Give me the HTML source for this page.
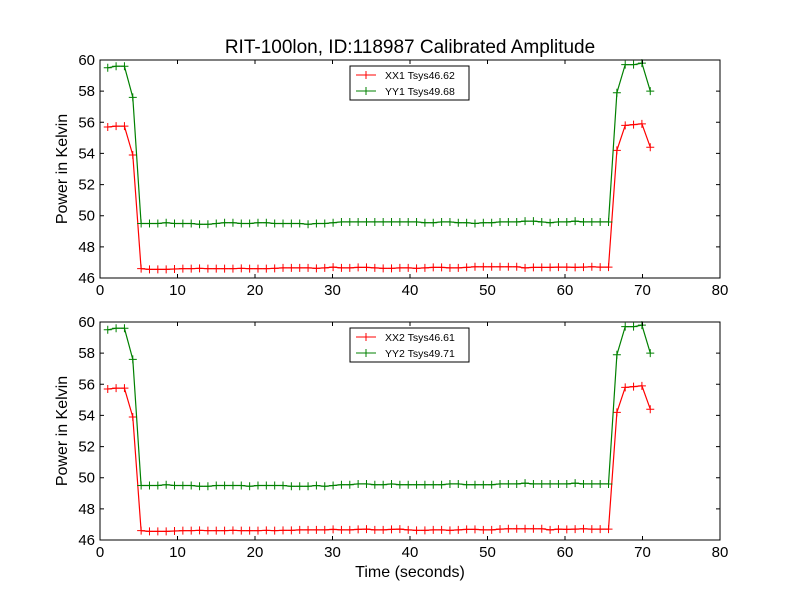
<!DOCTYPE html>
<html><head><meta charset="utf-8"><style>
body{margin:0;background:#fff}
svg{display:block;font-family:"Liberation Sans","DejaVu Sans",sans-serif}
</style></head><body>
<svg id="chart" width="800" height="600" xmlns="http://www.w3.org/2000/svg">
<rect width="800" height="600" fill="#fff"/>
<text x="410" y="53" font-size="19" text-anchor="middle">RIT-100lon, ID:118987 Calibrated Amplitude</text>
<text x="410" y="577" font-size="16" text-anchor="middle">Time (seconds)</text>
</svg>
<script>
const xx1=[55.7,55.75,55.75,53.9,46.6,46.55,46.55,46.55,46.58,46.6,46.6,
46.62,46.6,46.6,46.6,46.6,46.62,46.6,46.6,46.6,46.62,46.65,
46.65,46.65,46.65,46.62,46.65,46.7,46.65,46.65,46.68,46.68,46.65,
46.62,46.62,46.65,46.65,46.62,46.65,46.68,46.68,46.65,46.65,46.68,
46.72,46.72,46.72,46.72,46.72,46.72,46.65,46.68,46.68,46.68,46.7,
46.7,46.68,46.7,46.72,46.7,46.7,54.2,55.8,55.85,55.9,54.4];
const yy1=[59.5,59.6,59.6,57.6,49.5,49.5,49.5,49.55,49.5,49.5,49.5,
49.45,49.45,49.5,49.55,49.55,49.5,49.5,49.55,49.55,49.5,49.5,
49.5,49.5,49.45,49.5,49.5,49.55,49.6,49.6,49.6,49.6,49.6,
49.6,49.6,49.6,49.6,49.6,49.55,49.55,49.6,49.6,49.55,49.55,
49.5,49.55,49.55,49.6,49.6,49.6,49.65,49.65,49.6,49.55,49.6,
49.6,49.65,49.6,49.6,49.6,49.6,57.9,59.7,59.7,59.8,58.0];
const xx2=[55.7,55.75,55.75,53.9,46.6,46.55,46.55,46.55,46.58,46.6,46.6,
46.62,46.6,46.6,46.6,46.62,46.6,46.6,46.6,46.62,46.6,46.62,
46.62,46.65,46.65,46.65,46.65,46.68,46.65,46.65,46.68,46.7,46.65,
46.65,46.68,46.7,46.65,46.62,46.62,46.65,46.65,46.62,46.65,46.68,
46.68,46.65,46.65,46.7,46.72,46.72,46.72,46.72,46.72,46.65,46.7,
46.68,46.7,46.72,46.7,46.7,46.7,54.2,55.8,55.85,55.9,54.4];
const yy2=[59.5,59.6,59.6,57.6,49.5,49.5,49.5,49.55,49.5,49.5,49.5,
49.45,49.45,49.5,49.5,49.5,49.5,49.45,49.5,49.5,49.5,49.5,
49.45,49.45,49.45,49.5,49.45,49.5,49.55,49.55,49.6,49.6,49.55,
49.55,49.6,49.55,49.55,49.55,49.55,49.55,49.55,49.6,49.6,49.55,
49.55,49.55,49.55,49.6,49.6,49.6,49.65,49.6,49.6,49.6,49.6,
49.6,49.65,49.6,49.6,49.6,49.6,57.9,59.7,59.7,59.8,58.0];
const xTicks=[0,10,20,30,40,50,60,70,80];
const yTicks=[46,48,50,52,54,56,58,60];
const legend1=["XX1 Tsys46.62","YY1 Tsys49.68"];
const legend2=["XX2 Tsys46.61","YY2 Tsys49.71"];

const svg=document.getElementById('chart');
const NS='http://www.w3.org/2000/svg';
function mk(tag,attrs,parent){const e=document.createElementNS(NS,tag);for(const k in attrs)e.setAttribute(k,attrs[k]);(parent||svg).appendChild(e);return e;}
const X0=100,X1=720;
function xs(v){return X0+(v-0)/(80-0)*(X1-X0);}
function tOf(i,n){return 1+i*70/(n-1);}

function panel(top,bot,s1,s2,leg,id){
  const g=mk('g',{});
  
  
  const ys=v=>bot-(v-46)/(60-46)*(bot-top);
  const series=[[s1,'#ff0000',leg[0]],[s2,'#008000',leg[1]]];
  series.forEach(([d,c,name],si)=>{
    const pts=d.map((v,i)=>xs(tOf(i,d.length)).toFixed(1)+','+ys(v).toFixed(1)).join(' ');
    const pl=mk('polyline',{points:pts,fill:'none',stroke:c,'stroke-width':1.2},g);
    
    
    let p='';
    d.forEach((v,i)=>{const x=xs(tOf(i,d.length)),y=ys(v);p+=`M${x-4},${y}h8M${x},${y-4}v8`;});
    const m=mk('path',{d:p,stroke:c,'stroke-width':1},g);
    
    
  });
  const fr=mk('rect',{x:X0,y:top,width:X1-X0,height:bot-top,fill:'none',stroke:'#000','stroke-width':1},g);
  
  
  xTicks.forEach(t=>{
    const x=xs(t);
    mk('path',{d:`M${x},${bot}v-4M${x},${top}v4`,stroke:'#000'},g);
    const tx=mk('text',{x:x,y:bot+17,'font-size':15,'text-anchor':'middle'},g);
    tx.textContent=t;
    
    
  });
  yTicks.forEach(t=>{
    const y=ys(t);
    mk('path',{d:`M${X0},${y}h4M${X1},${y}h-4`,stroke:'#000'},g);
    const tx=mk('text',{x:X0-5,y:y+5,'font-size':15,'text-anchor':'end'},g);
    tx.textContent=t;
    
    
  });
  const yl=mk('text',{x:0,y:0,'font-size':16,'text-anchor':'middle',transform:`translate(67,${(top+bot)/2}) rotate(-90)`},g);
  yl.textContent='Power in Kelvin';
  
  
  const lg=mk('g',{},g);
  
  
  mk('rect',{x:350,y:top+6,width:119,height:34,fill:'#fff',stroke:'#000','stroke-width':1},lg);
  series.forEach(([d,c,name],si)=>{
    const y=top+15+si*16;
    const e=mk('g',{},lg);
    
    
    mk('path',{d:`M356,${y}h20M${366-4},${y}h8M366,${y-4}v8`,stroke:c,'stroke-width':1},e);
    const tx=mk('text',{x:385,y:y+4,'font-size':10.5},e);
    tx.textContent=name;
  });
}
panel(60,278,xx1,yy1,legend1,'top');
panel(322,540,xx2,yy2,legend2,'bottom');
</script>
</body></html>
